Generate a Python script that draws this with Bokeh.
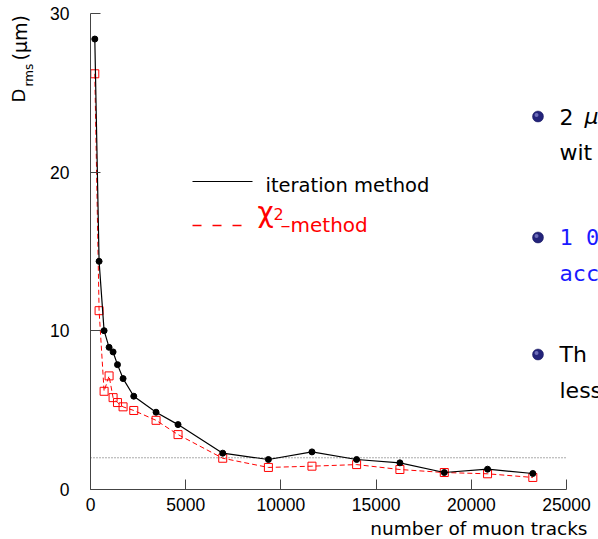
import math
from bokeh.plotting import figure
from bokeh.models import Range1d, FixedTicker, Label
from bokeh.embed import file_html
from bokeh.resources import INLINE

# ---------------- data ----------------
tracks = [226, 451, 714, 976, 1186, 1417, 1711, 2273, 3443, 4598,
          6945, 9343, 11631, 13977, 16250, 18581, 20854, 23231]
d_iter = [28.39, 14.38, 10.01, 8.96, 8.67, 7.87, 6.99, 5.88, 4.87, 4.09,
          2.29, 1.89, 2.37, 1.89, 1.68, 1.07, 1.28, 1.01]
d_chi2 = [26.20, 11.27, 6.19, 7.16, 5.79, 5.48, 5.21, 4.98, 4.36, 3.46,
          1.97, 1.39, 1.47, 1.57, 1.26, 1.07, 0.99, 0.76]
x_ticks = [0, 5000, 10000, 15000, 20000, 25000]
y_ticks = [0, 10, 20, 30]
ref_level = 2.0
legend_labels = ["iteration method", "method"]
x_title = "number of muon tracks"
slide_lines = [("2", "wit", "black"), ("1 0", "acc", "#1a1aff"), ("Th", "less", "black")]

# ---------------- layout (pixel geometry of the axes box) ----------------
W, H = 598, 539
PX0, PX1 = 90, 566      # pixel x of first / last x tick
PY0, PY1 = 489, 13      # pixel y of first / last y tick
XMIN, XMAX = x_ticks[0], x_ticks[-1]
YMIN, YMAX = y_ticks[0], y_ticks[-1]
sx = (XMAX - XMIN) / (PX1 - PX0)
sy = (YMAX - YMIN) / (PY0 - PY1)


def X(px):
    return XMIN + (px - PX0) * sx


def Y(py):
    return YMIN + (PY0 - py) * sy


p = figure(width=W, height=H, output_backend="svg", toolbar_location=None,
           x_range=Range1d(X(0), X(W)), y_range=Range1d(Y(H), Y(0)),
           min_border_left=0, min_border_right=0, min_border_top=0, min_border_bottom=0)
p.outline_line_color = None
p.xgrid.visible = False
p.ygrid.visible = False
p.background_fill_color = "white"
p.border_fill_color = "white"

for ax, ticks, standoff in ((p.xaxis[0], x_ticks, 8), (p.yaxis[0], y_ticks, 21)):
    ax.ticker = FixedTicker(ticks=ticks)
    ax.fixed_location = 0
    ax.bounds = (ticks[0], ticks[-1])
    ax.major_tick_in = 10
    ax.major_tick_out = 0
    ax.minor_tick_in = 0
    ax.minor_tick_out = 0
    ax.axis_line_color = "#444444"
    ax.major_tick_line_color = "#444444"
    ax.major_label_text_font = "Liberation Sans"
    ax.major_label_text_font_size = "17.5px"
    ax.major_label_text_color = "black"
    ax.major_label_standoff = standoff

# reference dotted line
p.line([XMIN, XMAX], [ref_level, ref_level], line_color="#555555",
       line_dash="1 2", line_width=1)

# series
p.line(tracks, d_chi2, line_color="red", line_width=1, line_dash="5 3")
p.scatter(tracks, d_chi2, marker="square", size=8, line_color="red",
          fill_color=None, line_width=1)
p.line(tracks, d_iter, line_color="black", line_width=1.2)
p.scatter(tracks, d_iter, marker="circle", size=6, line_color="black", fill_color="black")

# legend samples (manual legend)
p.segment(x0=[X(192)], y0=[Y(181)], x1=[X(252)], y1=[Y(181)],
          line_color="black", line_width=1.2)
p.segment(x0=[X(192)], y0=[Y(225)], x1=[X(245)], y1=[Y(225)],
          line_color="#ff0000", line_width=1.5, line_dash="9 11")


def lab(px, py, text, size, color="black", font="DejaVu Sans", angle=0.0,
        align="left", style="normal"):
    """py / px is the centre line of the text (middle baseline)."""
    p.add_layout(Label(x=X(px), y=Y(py), text=text, text_font=font,
                       text_font_size=size, text_color=color, angle=angle,
                       text_align=align, text_baseline="middle",
                       text_font_style=style))


lab(265, 185, legend_labels[0], "19.5px")
lab(257, 212, "χ", "28px", color="red")
lab(273, 213, "2", "16px", color="red")
lab(280, 224, "–" + legend_labels[1], "20px", color="red")

# axis titles
lab(587, 528, x_title, "18.5px", align="right")
lab(17.5, 102, "D", "18px", angle=math.pi / 2)
lab(28.5, 86, "rms", "12px", angle=math.pi / 2)
lab(19, 60, "(μm)", "19px", angle=math.pi / 2)

# slide bullets (partly outside the window)
bullet_y = [116, 237, 354]
line_gap = 36
p.scatter([X(537.5)] * 3, [Y(v) for v in bullet_y], marker="circle", size=11,
          fill_color="#23237a", line_color="#1a1a5e", line_width=0.5)
p.scatter([X(536)] * 3, [Y(v - 1.5) for v in bullet_y], marker="circle", size=4,
          fill_color="#7f7fc8", line_color=None, fill_alpha=0.8)
for (l1, l2, col), yc in zip(slide_lines, bullet_y):
    f = "DejaVu Sans Mono" if col != "black" else "DejaVu Sans"
    lab(559, yc, l1, "22px", color=col, font=f)
    lab(559, yc + line_gap, l2, "22px", color=col, font=f)
lab(584, bullet_y[0], "μ", "22px", style="italic")

open("out.html", "w").write(file_html(p, INLINE))
